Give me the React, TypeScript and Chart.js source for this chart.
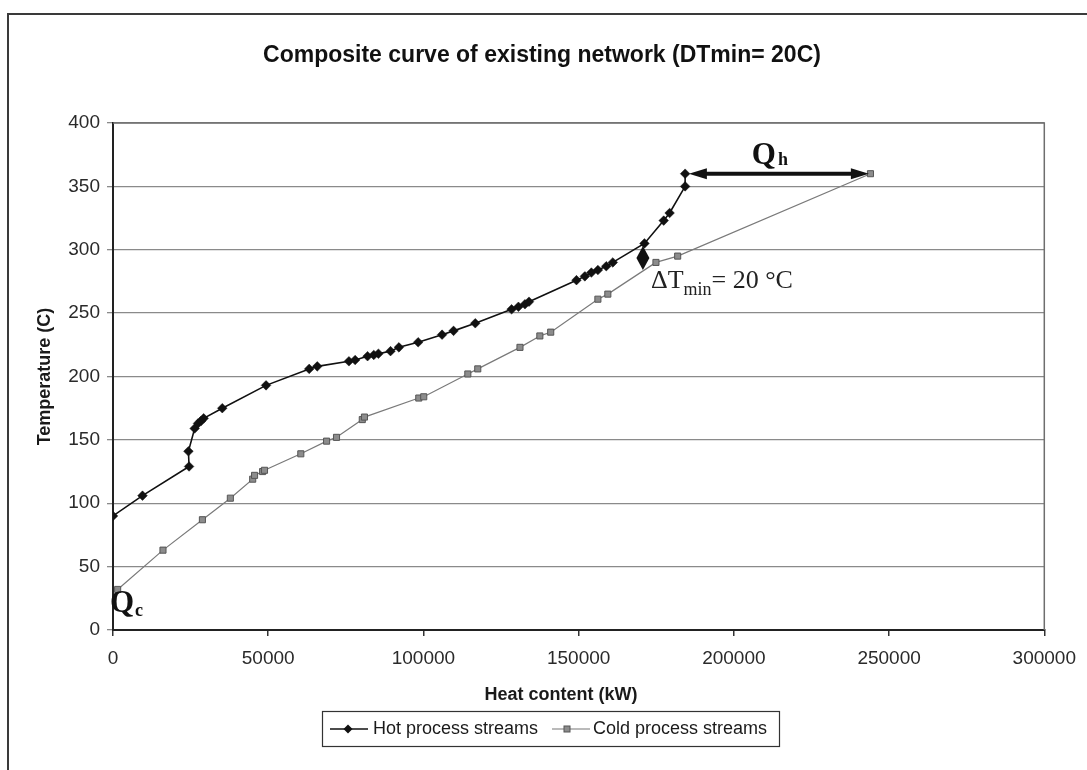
import React, { useEffect, useRef } from 'react';
import { Chart, registerables } from 'chart.js';

Chart.register(...registerables);

const TITLE = 'Composite curve of existing network (DTmin= 20C)';
const X_TITLE = 'Heat content (kW)';
const Y_TITLE = 'Temperature (C)';
const HOT_LABEL = 'Hot process streams';
const COLD_LABEL = 'Cold process streams';

const hotQ = [0, 9500, 24500, 24300, 26300, 27400, 28400, 29200, 35200, 49300, 63200, 65800, 76000, 78000, 82000, 84000, 85500, 89400, 92100, 98300, 106000, 109700, 116700, 128400, 130600, 132700, 134000, 149300, 152000, 154100, 156200, 158900, 161000, 171200, 177400, 179300, 184300, 184300];
const hotT = [90, 106, 129, 141, 159, 163, 165, 167, 175, 193, 206, 208, 212, 213, 216, 217, 218, 220, 223, 227, 233, 236, 242, 253, 255, 257, 259, 276, 279, 282, 284, 287, 290, 305, 323, 329, 350, 360];

const coldQ = [1500, 16100, 28800, 37800, 45000, 45600, 48200, 48800, 60500, 68800, 72000, 80300, 81000, 98500, 100100, 114300, 117500, 131100, 137500, 141000, 156200, 159400, 174900, 181900, 244000];
const coldT = [32, 63, 87, 104, 119, 122, 125, 126, 139, 149, 152, 166, 168, 183, 184, 202, 206, 223, 232, 235, 261, 265, 290, 295, 360];

const X_MIN = 0;
const X_MAX = 300000;
const X_STEP = 50000;
const Y_MIN = 0;
const Y_MAX = 400;
const Y_STEP = 50;

// Annotations (data coordinates)
const QH_FROM = 185500;
const QH_TO = 243500;
const QH_TEMP = 360;
const DT_Q = 170700;
const DT_TOP = 303;
const DT_BOTTOM = 284;

const SANS = "'Liberation Sans', Arial, sans-serif";
const SERIF = "'Liberation Serif', 'Times New Roman', serif";

const decorPlugin = {
  id: 'decor',
  beforeDraw(chart: any) {
    const ctx = chart.ctx;
    ctx.save();
    ctx.fillStyle = '#ffffff';
    ctx.fillRect(0, 0, chart.width, chart.height);
    ctx.strokeStyle = '#3a3a3a';
    ctx.lineWidth = 2;
    ctx.beginPath();
    ctx.moveTo(8, chart.height);
    ctx.lineTo(8, 14);
    ctx.lineTo(chart.width, 14);
    ctx.stroke();
    ctx.restore();
  },
  beforeDatasetsDraw(chart: any) {
    const ctx = chart.ctx;
    const { left, right, top, bottom } = chart.chartArea;
    ctx.save();
    ctx.strokeStyle = '#6e6e6e';
    ctx.lineWidth = 1.5;
    ctx.beginPath();
    ctx.moveTo(left, top);
    ctx.lineTo(right, top);
    ctx.lineTo(right, bottom);
    ctx.stroke();
    ctx.restore();
  },
  afterDraw(chart: any) {
    const ctx = chart.ctx;
    const xs = chart.scales.x;
    const ys = chart.scales.y;
    const { top, bottom } = chart.chartArea;
    ctx.save();
    ctx.fillStyle = '#111';

    // Title
    ctx.font = `bold 23px ${SANS}`;
    ctx.textAlign = 'center';
    ctx.textBaseline = 'middle';
    ctx.fillText(TITLE, 542, 56);

    // Axis titles
    ctx.fillStyle = '#1a1a1a';
    ctx.font = `bold 18px ${SANS}`;
    ctx.fillText(X_TITLE, 561, 695);
    ctx.save();
    ctx.translate(45, (top + bottom) / 2);
    ctx.rotate(-Math.PI / 2);
    ctx.fillText(Y_TITLE, 0, 0);
    ctx.restore();

    // Legend
    ctx.strokeStyle = '#333';
    ctx.lineWidth = 1.2;
    ctx.strokeRect(322.5, 711.5, 457, 35);
    const ly = 729;
    ctx.strokeStyle = '#111';
    ctx.lineWidth = 1.5;
    ctx.beginPath(); ctx.moveTo(330, ly); ctx.lineTo(368, ly); ctx.stroke();
    ctx.fillStyle = '#111';
    ctx.beginPath();
    ctx.moveTo(348, ly - 4.5); ctx.lineTo(352.5, ly); ctx.lineTo(348, ly + 4.5); ctx.lineTo(343.5, ly); ctx.closePath();
    ctx.fill();
    ctx.strokeStyle = '#777';
    ctx.lineWidth = 1.2;
    ctx.beginPath(); ctx.moveTo(552, ly); ctx.lineTo(590, ly); ctx.stroke();
    ctx.fillStyle = '#8c8c8c';
    ctx.fillRect(564, ly - 3, 6, 6);
    ctx.strokeStyle = '#555';
    ctx.lineWidth = 1;
    ctx.strokeRect(564, ly - 3, 6, 6);
    ctx.fillStyle = '#1a1a1a';
    ctx.font = `18px ${SANS}`;
    ctx.textAlign = 'left';
    ctx.textBaseline = 'middle';
    ctx.fillText(HOT_LABEL, 373, ly);
    ctx.fillText(COLD_LABEL, 593, ly);

    // Qh double arrow
    const ay = ys.getPixelForValue(QH_TEMP);
    const ax1 = xs.getPixelForValue(QH_FROM);
    const ax2 = xs.getPixelForValue(QH_TO);
    ctx.strokeStyle = '#111';
    ctx.fillStyle = '#111';
    ctx.lineWidth = 4;
    ctx.beginPath(); ctx.moveTo(ax1 + 14, ay); ctx.lineTo(ax2 - 14, ay); ctx.stroke();
    ctx.beginPath();
    ctx.moveTo(ax1, ay); ctx.lineTo(ax1 + 18, ay - 5.5); ctx.lineTo(ax1 + 18, ay + 5.5); ctx.closePath(); ctx.fill();
    ctx.beginPath();
    ctx.moveTo(ax2, ay); ctx.lineTo(ax2 - 18, ay - 5.5); ctx.lineTo(ax2 - 18, ay + 5.5); ctx.closePath(); ctx.fill();

    // Qh label
    ctx.textBaseline = 'alphabetic';
    ctx.textAlign = 'left';
    ctx.font = `bold 31px ${SERIF}`;
    const qx = ax1 + 63;
    ctx.fillText('Q', qx, ay - 10);
    const qw = ctx.measureText('Q').width;
    ctx.font = `bold 18px ${SERIF}`;
    ctx.fillText('h', qx + qw + 2, ay - 9);

    // Qc label
    const cx0 = xs.getPixelForValue(0) - 3;
    const cy0 = ys.getPixelForValue(14);
    ctx.font = `bold 31px ${SERIF}`;
    ctx.fillText('Q', cx0, cy0);
    const qw2 = ctx.measureText('Q').width;
    ctx.font = `bold 18px ${SERIF}`;
    ctx.fillText('c', cx0 + qw2 + 1, cy0 + 4);

    // Delta T min marker
    const dx = xs.getPixelForValue(DT_Q);
    const dt = ys.getPixelForValue(DT_TOP);
    const db = ys.getPixelForValue(DT_BOTTOM);
    const dm = (dt + db) / 2;
    ctx.beginPath();
    ctx.moveTo(dx, dt); ctx.lineTo(dx + 6.5, dm); ctx.lineTo(dx, db); ctx.lineTo(dx - 6.5, dm); ctx.closePath();
    ctx.fill();

    // Delta T min label
    const tx = dx + 8;
    const ty = ys.getPixelForValue(270);
    ctx.fillStyle = '#222';
    ctx.font = `26px ${SERIF}`;
    ctx.fillText('\u0394T', tx, ty);
    let w = ctx.measureText('\u0394T').width;
    ctx.font = `18px ${SERIF}`;
    ctx.fillText('min', tx + w, ty + 7);
    w += ctx.measureText('min').width;
    ctx.font = `26px ${SERIF}`;
    ctx.fillText('= 20 \u00B0C', tx + w, ty);

    ctx.restore();
  },
};

export default function App() {
  const ref = useRef<HTMLCanvasElement | null>(null);

  useEffect(() => {
    if (!ref.current) return;
    const hot = hotQ.map((q, i) => ({ x: q, y: hotT[i] }));
    const cold = coldQ.map((q, i) => ({ x: q, y: coldT[i] }));
    const chart = new Chart(ref.current, {
      type: 'scatter',
      data: {
        datasets: [
          {
            label: HOT_LABEL,
            data: hot,
            showLine: true,
            borderColor: '#111',
            borderWidth: 1.6,
            backgroundColor: '#111',
            pointBackgroundColor: '#111',
            pointBorderColor: '#111',
            pointStyle: 'rectRot',
            pointRadius: 4.8,
            pointBorderWidth: 0.5,
            tension: 0,
          },
          {
            label: COLD_LABEL,
            data: cold,
            showLine: true,
            borderColor: '#7a7a7a',
            borderWidth: 1.2,
            backgroundColor: '#8c8c8c',
            pointBackgroundColor: '#8c8c8c',
            pointBorderColor: '#555',
            pointStyle: 'rect',
            pointRadius: 4.3,
            pointBorderWidth: 1,
            tension: 0,
          },
        ],
      },
      options: {
        responsive: false,
        animation: false,
        devicePixelRatio: 1,
        layout: { padding: { left: 0, right: 39, top: 123, bottom: 0 } },
        plugins: {
          legend: { display: false },
          tooltip: { enabled: false },
          title: { display: false },
        },
        scales: {
          x: {
            type: 'linear',
            min: X_MIN,
            max: X_MAX,
            afterFit: (s: any) => { s.height = 140; },
            ticks: {
              stepSize: X_STEP,
              color: '#2a2a2a',
              font: { family: SANS, size: 19 },
              padding: 11,
              maxRotation: 0,
              callback: (v: any) => String(v),
            },
            grid: { drawOnChartArea: false, drawTicks: true, tickLength: 6, color: '#333', lineWidth: 1.5 },
            border: { display: true, color: '#222', width: 2 },
          },
          y: {
            type: 'linear',
            min: Y_MIN,
            max: Y_MAX,
            afterFit: (s: any) => { s.width = 113; },
            ticks: {
              stepSize: Y_STEP,
              color: '#2a2a2a',
              font: { family: SANS, size: 19 },
              padding: 7,
              callback: (v: any) => String(v),
            },
            grid: { color: '#8a8a8a', lineWidth: 1.3, tickLength: 6, drawTicks: true },
            border: { display: true, color: '#222', width: 2 },
          },
        },
      },
      plugins: [decorPlugin],
    } as any);
    return () => chart.destroy();
  }, []);

  return (
    <div style={{ position: 'absolute', left: 0, top: 0, width: 1087, height: 770, background: '#fff' }}>
      <canvas ref={ref} width={1087} height={770} style={{ display: 'block' }} />
    </div>
  );
}
